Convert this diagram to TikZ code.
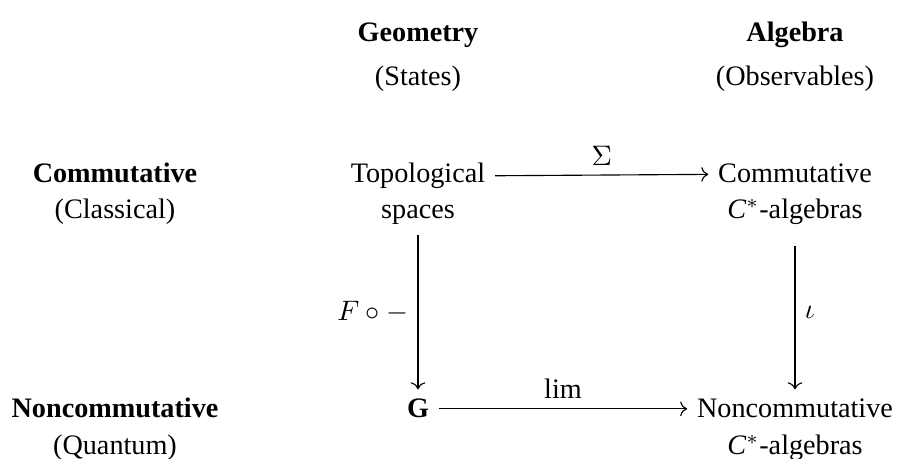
\documentclass[tikz,border=0pt]{standalone}
\usepackage{fontspec}
\setmainfont{Liberation Serif}
\usepackage{amsmath}
\usetikzlibrary{arrows.meta}

\newcommand{\Cstar}{\textit{C}$^*$}

\begin{document}
\begin{tikzpicture}[>=To, x=0.3546pt, y=-0.3546pt,
  head/.style={font=\bfseries, anchor=base},
  txt/.style={anchor=base},
  map/.style={->, line width=0.4pt}]

\useasboundingbox (0,0) rectangle (898,459);

%-- column heads
\node[head] (Geo)  at (418, 42) {Geometry};
\node[txt]  (GeoS) at (418, 86) {(States)};
\node[head] (Alg)  at (795, 42) {Algebra};
\node[txt]  (AlgS) at (795, 86) {(Observables)};

%-- row heads
\node[head] (Com)  at (115,183) {Commutative};
\node[txt]  (ComS) at (115,219) {(Classical)};
\node[head] (Non)  at (115,418) {Noncommutative};
\node[txt]  (NonS) at (115,455) {(Quantum)};

%-- objects
\node[txt] (Top)   at (418,183) {Topological};
\node[txt] (TopB)  at (418,219) {spaces};
\node[txt] (CAlg)  at (795,183) {Commutative};
\node[txt] (CAlgB) at (795,219) {\Cstar-algebras};
\node[txt] (G)     at (418,418) {\textbf{G}};
\node[txt] (NAlg)  at (795,418) {Noncommutative};
\node[txt] (NAlgB) at (795,455) {\Cstar-algebras};

%-- maps
\draw[map] (Top) -- node[above] {$\Sigma$} (CAlg);
\draw[map] (TopB) -- node[left] {$F\circ -$} (G);
\draw[map, shorten <=4pt] (CAlgB) -- node[right] {$\iota$} (NAlg);
\draw[map] (G) -- node[above] {$\lim$} (NAlg);

\end{tikzpicture}
\end{document}
